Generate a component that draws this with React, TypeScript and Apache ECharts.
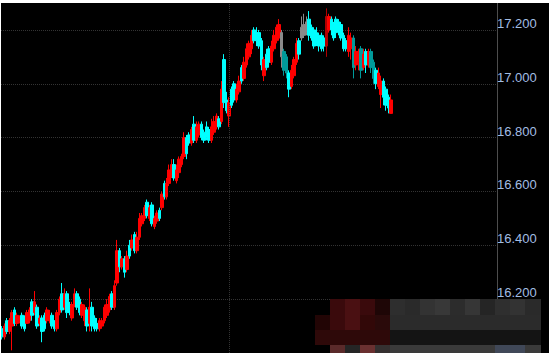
import React, { useEffect, useRef } from "react";
import * as echarts from "echarts";

// Candle values [index order]
const opens = [
  16.09, 16.06, 16.12, 16.08, 16.10, 16.16, 16.11, 16.12, 16.14, 16.13,
  16.11, 16.12, 16.19, 16.15, 16.17, 16.11, 16.13, 16.14, 16.12, 16.12,
  16.14, 16.12, 16.09, 16.15, 16.22, 16.17, 16.22, 16.18, 16.13, 16.18,
  16.22, 16.20, 16.14, 16.12, 16.16, 16.11, 16.17, 16.13, 16.11, 16.09,
  16.10, 16.12, 16.14, 16.16, 16.22, 16.17, 16.26, 16.38, 16.32, 16.35,
  16.31, 16.40, 16.39, 16.44, 16.38, 16.43, 16.48, 16.50, 16.56, 16.50,
  16.55, 16.47, 16.49, 16.53, 16.54, 16.63, 16.58, 16.63, 16.66, 16.70,
  16.64, 16.67, 16.70, 16.73, 16.80, 16.81, 16.78, 16.85, 16.79, 16.81,
  16.85, 16.82, 16.84, 16.83, 16.79, 16.82, 16.84, 16.87, 16.86, 17.09,
  16.94, 16.88, 16.98, 17.00, 16.94, 16.97, 17.06, 17.02, 17.07, 17.10,
  17.13, 17.20, 17.19, 17.19, 17.16, 17.03, 17.11, 17.13, 17.08, 17.13,
  17.16, 17.17, 17.19, 17.12, 17.10, 17.04, 16.99, 17.03, 17.08, 17.16,
  17.17, 17.22, 17.19, 17.24, 17.21, 17.20, 17.19, 17.18, 17.18, 17.17,
  17.14, 17.20, 17.24, 17.22, 17.24, 17.23, 17.22, 17.18, 17.16, 17.12,
  17.13, 17.17, 17.07, 17.08, 17.13, 17.06, 17.12, 17.07, 17.12, 17.08,
  17.05, 16.99, 16.96, 17.01, 16.98, 16.95, 16.89,
];
const closes = [
  16.06, 16.10, 16.08, 16.12, 16.15, 16.11, 16.14, 16.13, 16.10, 16.09,
  16.15, 16.16, 16.14, 16.19, 16.10, 16.13, 16.08, 16.09, 16.16, 16.14,
  16.10, 16.09, 16.15, 16.20, 16.16, 16.22, 16.15, 16.15, 16.18, 16.22,
  16.17, 16.15, 16.18, 16.17, 16.10, 16.17, 16.10, 16.09, 16.09, 16.12,
  16.12, 16.17, 16.18, 16.21, 16.17, 16.25, 16.38, 16.32, 16.35, 16.30,
  16.36, 16.36, 16.42, 16.38, 16.43, 16.50, 16.51, 16.54, 16.51, 16.54,
  16.48, 16.50, 16.52, 16.50, 16.59, 16.58, 16.63, 16.68, 16.70, 16.65,
  16.68, 16.72, 16.73, 16.80, 16.74, 16.78, 16.83, 16.79, 16.84, 16.85,
  16.80, 16.79, 16.80, 16.79, 16.84, 16.86, 16.88, 16.84, 16.98, 16.93,
  16.90, 16.93, 16.92, 16.94, 16.98, 17.01, 17.01, 17.08, 17.13, 17.15,
  17.18, 17.16, 17.16, 17.14, 17.07, 17.09, 17.06, 17.08, 17.14, 17.18,
  17.21, 17.22, 17.10, 17.05, 17.04, 16.98, 17.05, 17.09, 17.15, 17.11,
  17.21, 17.18, 17.23, 17.18, 17.17, 17.14, 17.15, 17.14, 17.13, 17.14,
  17.25, 17.25, 17.20, 17.17, 17.19, 17.20, 17.17, 17.13, 17.13, 17.18,
  17.17, 17.06, 17.12, 17.12, 17.05, 17.11, 17.07, 17.12, 17.06, 17.02,
  17.00, 17.04, 17.01, 16.95, 16.92, 16.91, 16.94,
];
const lows = [
  16.05, 16.05, 16.07, 16.07, 16.01, 16.10, 16.10, 16.11, 16.09, 16.08,
  16.11, 16.11, 16.12, 16.14, 16.09, 16.10, 16.04, 16.08, 16.11, 16.11,
  16.09, 16.08, 16.08, 16.14, 16.15, 16.16, 16.13, 16.14, 16.12, 16.17,
  16.16, 16.14, 16.13, 16.10, 16.08, 16.08, 16.08, 16.08, 16.08, 16.08,
  16.09, 16.11, 16.13, 16.15, 16.16, 16.16, 16.25, 16.30, 16.31, 16.28,
  16.30, 16.35, 16.38, 16.37, 16.37, 16.42, 16.47, 16.49, 16.50, 16.49,
  16.47, 16.46, 16.48, 16.49, 16.53, 16.57, 16.57, 16.62, 16.65, 16.64,
  16.63, 16.65, 16.69, 16.72, 16.72, 16.77, 16.77, 16.78, 16.78, 16.80,
  16.79, 16.78, 16.79, 16.78, 16.78, 16.81, 16.83, 16.83, 16.85, 16.91,
  16.89, 16.84, 16.91, 16.93, 16.93, 16.96, 17.00, 17.01, 17.06, 17.09,
  17.11, 17.15, 17.14, 17.13, 17.05, 17.01, 17.05, 17.06, 17.07, 17.12,
  17.15, 17.16, 17.06, 17.03, 17.02, 16.95, 16.98, 17.02, 17.07, 17.09,
  17.16, 17.17, 17.18, 17.16, 17.16, 17.13, 17.14, 17.12, 17.12, 17.12,
  17.10, 17.19, 17.18, 17.16, 17.17, 17.18, 17.16, 17.12, 17.12, 17.10,
  17.09, 17.02, 17.05, 17.05, 17.02, 17.05, 17.04, 17.06, 17.04, 17.00,
  16.98, 16.98, 16.91, 16.92, 16.90, 16.89, 16.89,
];
const highs = [
  16.10, 16.11, 16.13, 16.13, 16.16, 16.17, 16.15, 16.14, 16.15, 16.14,
  16.16, 16.17, 16.20, 16.23, 16.18, 16.14, 16.14, 16.15, 16.17, 16.16,
  16.15, 16.12, 16.16, 16.21, 16.26, 16.24, 16.23, 16.19, 16.19, 16.24,
  16.23, 16.21, 16.19, 16.18, 16.17, 16.24, 16.19, 16.14, 16.13, 16.13,
  16.13, 16.18, 16.20, 16.22, 16.23, 16.27, 16.42, 16.39, 16.36, 16.36,
  16.38, 16.42, 16.44, 16.45, 16.45, 16.52, 16.52, 16.55, 16.57, 16.55,
  16.56, 16.51, 16.53, 16.54, 16.60, 16.64, 16.65, 16.70, 16.72, 16.72,
  16.70, 16.73, 16.74, 16.82, 16.81, 16.82, 16.84, 16.88, 16.86, 16.86,
  16.86, 16.83, 16.86, 16.84, 16.87, 16.88, 16.89, 16.88, 17.01, 17.11,
  16.97, 16.95, 16.99, 17.01, 17.00, 17.03, 17.07, 17.10, 17.15, 17.16,
  17.20, 17.21, 17.21, 17.20, 17.17, 17.10, 17.13, 17.14, 17.16, 17.20,
  17.22, 17.24, 17.20, 17.13, 17.11, 17.05, 17.07, 17.10, 17.17, 17.17,
  17.25, 17.26, 17.25, 17.27, 17.22, 17.21, 17.21, 17.19, 17.19, 17.18,
  17.28, 17.26, 17.25, 17.23, 17.25, 17.24, 17.23, 17.19, 17.17, 17.21,
  17.19, 17.18, 17.14, 17.13, 17.14, 17.13, 17.13, 17.13, 17.13, 17.09,
  17.06, 17.06, 17.03, 17.02, 16.99, 16.96, 16.96,
];

const grayIdx = [112, 120, 121, 122];
const tealIdx = [113, 114, 141, 144, 148, 149];
const darkRedIdx = [130];

const SLOTS = 199;
const SESSION_BREAK = "91";

// pixelated block in the lower right (x, y, w, h, colour) in chart coords
const mosaic: [number, number, number, number, string][] = [
  [329, 296, 15, 16, "#3a0a0c"], [344, 296, 15, 16, "#4a1012"], [359, 296, 15, 16, "#3a0a0c"], [374, 296, 15, 16, "#1e0606"],
  [314, 312, 15, 15, "#220505"], [329, 312, 15, 15, "#3a0a0c"], [344, 312, 15, 15, "#4a1012"], [359, 312, 15, 15, "#320808"], [374, 312, 15, 15, "#2a0a0a"],
  [314, 327, 75, 15, "#2e0909"],
  [329, 342, 15, 8, "#5a2a2a"], [344, 342, 15, 8, "#252525"], [359, 342, 15, 8, "#6a3030"], [374, 342, 15, 8, "#353030"],
  [389, 296, 15, 16, "#2e2e2e"], [404, 296, 15, 16, "#2a2a2a"], [419, 296, 15, 16, "#333333"], [434, 296, 15, 16, "#383838"],
  [449, 296, 15, 16, "#2c2c2c"], [464, 296, 15, 16, "#363636"], [479, 296, 15, 16, "#252525"], [494, 296, 15, 16, "#2f2f2f"],
  [509, 296, 15, 16, "#333333"], [524, 296, 16, 16, "#2a2a2a"],
  [389, 312, 151, 15, "#2b2b2b"],
  [389, 327, 151, 15, "#141414"],
  [389, 342, 151, 8, "#3a3a3a"], [494, 342, 30, 8, "#404858"],
];

export default function App() {
  const ref = useRef<HTMLDivElement>(null);
  useEffect(() => {
    if (!ref.current) return;
    const chart = echarts.init(ref.current, null, { renderer: "svg" });
    const categories = Array.from({ length: SLOTS }, (_, i) => String(i));
    const colorFor = (i: number) => {
      if (grayIdx.includes(i)) return "#8a8a8a";
      if (tealIdx.includes(i)) return "#009a9a";
      if (darkRedIdx.includes(i)) return "#b00000";
      return null;
    };
    const data = opens.map((o, i) => {
      const v = [o, closes[i], lows[i], highs[i]];
      const c = colorFor(i);
      if (!c) return v;
      return { value: v, itemStyle: { color: c, color0: c, borderColor: c, borderColor0: c } };
    });
    chart.setOption({
      animation: false,
      backgroundColor: "#000000",
      grid: { left: 0, right: 52, top: 0, bottom: 0 },
      xAxis: {
        type: "category",
        data: categories,
        boundaryGap: true,
        axisLine: { show: false },
        axisTick: { show: false },
        axisLabel: { show: false },
        splitLine: { show: false },
      },
      yAxis: {
        type: "value",
        position: "right",
        min: 16,
        max: 17.3,
        interval: 0.2,
        scale: true,
        axisLine: { show: true, lineStyle: { color: "#4d4d4d", width: 1 } },
        axisTick: { show: false },
        axisLabel: {
          color: "#a3bde3",
          fontSize: 13,
          fontFamily: "Liberation Sans, Arial, sans-serif",
          margin: 0,
          verticalAlign: "bottom",
          showMinLabel: false,
          showMaxLabel: false,
          formatter: (v: number) => v.toFixed(3),
        },
        splitLine: {
          show: true,
          showMinLine: false,
          showMaxLine: false,
          lineStyle: { color: "#333333", type: "dotted", width: 1 },
        },
      },
      series: [
        {
          type: "candlestick",
          data,
          barWidth: 3,
          itemStyle: {
            color: "#ff0000",
            color0: "#00ffff",
            borderColor: "#ff0000",
            borderColor0: "#00ffff",
            borderWidth: 1,
          },
          markLine: {
            silent: true,
            symbol: "none",
            label: { show: false },
            lineStyle: { color: "#333333", type: "dotted", width: 1 },
            data: [{ xAxis: SESSION_BREAK }],
          },
        },
      ],
      graphic: mosaic.map(([x, y, w, h, c]) => ({
        type: "rect",
        z: 100,
        silent: true,
        shape: { x, y, width: w, height: h },
        style: { fill: c },
      })),
    });
    return () => chart.dispose();
  }, []);
  return (
    <div style={{ position: "fixed", left: 0, top: 0, width: 549, height: 353, background: "#ffffff", overflow: "hidden" }}>
      <div ref={ref} style={{ position: "absolute", left: 1, top: 3, width: 548, height: 350 }} />
    </div>
  );
}
